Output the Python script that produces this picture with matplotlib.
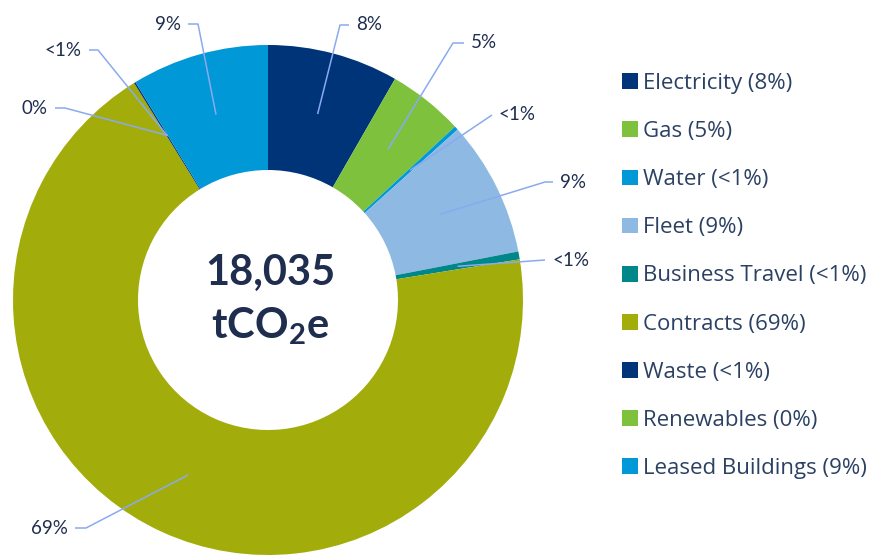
import matplotlib.pyplot as plt
import numpy as np

categories = ['Electricity', 'Gas', 'Water', 'Fleet', 'Business Travel',
              'Contracts', 'Waste', 'Renewables', 'Leased Buildings']
shares = [8.3, 4.8, 0.25, 8.6, 0.5, 68.75, 0.1, 0.0, 8.7]
pct_labels = ['8%', '5%', '<1%', '9%', '<1%', '69%', '<1%', '0%', '9%']
legend_pct = ['8%', '5%', '<1%', '9%', '<1%', '69%', '<1%', '0%', '9%']
colors = ['#003478', '#7dc13c', '#0098d6', '#8db9e2', '#00878a',
          '#a2ad0b', '#003478', '#7dc13c', '#0098d6']
total_text = '18,035'

# layout, in pixels (y measured from top)
W, H = 877, 555
cx, cy, R, R_in = 268, 300, 255, 130
# elbow of each leader line and which side the label sits
elbows = [(340, 25), (453, 43), (492, 115), (545, 182), (545, 260),
          (86, 528), (98, 50), (65, 108), (198, 24)]
sides = [1, 1, 1, 1, 1, -1, -1, -1, -1]
horiz = [9, 11, 0, 8, 0, 11, 9, 10, 10]

navy = '#1f2d4f'
line_col = '#8aaaf0'

plt.rcParams['font.family'] = ['Lato', 'DejaVu Sans']

fig = plt.figure(figsize=(W / 100, H / 100), dpi=100, facecolor='white')
ax = fig.add_axes([0, 0, 1, 1])

wedges, _ = ax.pie(shares, colors=colors, startangle=90, counterclock=False,
                   radius=R, center=(cx, H - cy),
                   wedgeprops=dict(width=R - R_in, linewidth=0))
ax.set_xlim(0, W)
ax.set_ylim(0, H)
ax.set_aspect('equal')
ax.axis('off')

r_mid = (R + R_in) / 2
for w, lab, (ex, ey), s, hz in zip(wedges, pct_labels, elbows, sides, horiz):
    ang = np.radians((w.theta1 + w.theta2) / 2)
    x0 = cx + r_mid * np.cos(ang)
    y0 = (H - cy) + r_mid * np.sin(ang)
    ey = H - ey
    ax.plot([x0, ex, ex + s * hz], [y0, ey, ey], color=line_col, lw=1.1,
            solid_capstyle='butt')
    ax.text(ex + s * (hz + 7), ey, lab, ha='left' if s > 0 else 'right',
            va='center', fontsize=13.5, color=navy)

ax.text(cx + 2, H - 273, total_text, ha='center', va='center', fontsize=30,
        fontweight='bold', color=navy)
ax.text(cx + 2, H - 326, r'tCO$_\mathregular{2}$e', ha='center', va='center',
        fontsize=30, fontweight='bold', color=navy)

leg = ax.legend(wedges, [f'{c} ({p})' for c, p in zip(categories, legend_pct)],
                loc='upper left', bbox_to_anchor=(622 / W, 1 - 73 / H),
                bbox_transform=fig.transFigure, frameon=False,
                handlelength=0.72, handleheight=0.72, handletextpad=0.23,
                labelspacing=1.22, borderpad=0, borderaxespad=0,
                prop=dict(family='Open Sans', size=16))
for t in leg.get_texts():
    t.set_color('#2b4163')

fig.savefig('out.png', dpi=100, facecolor='white')
